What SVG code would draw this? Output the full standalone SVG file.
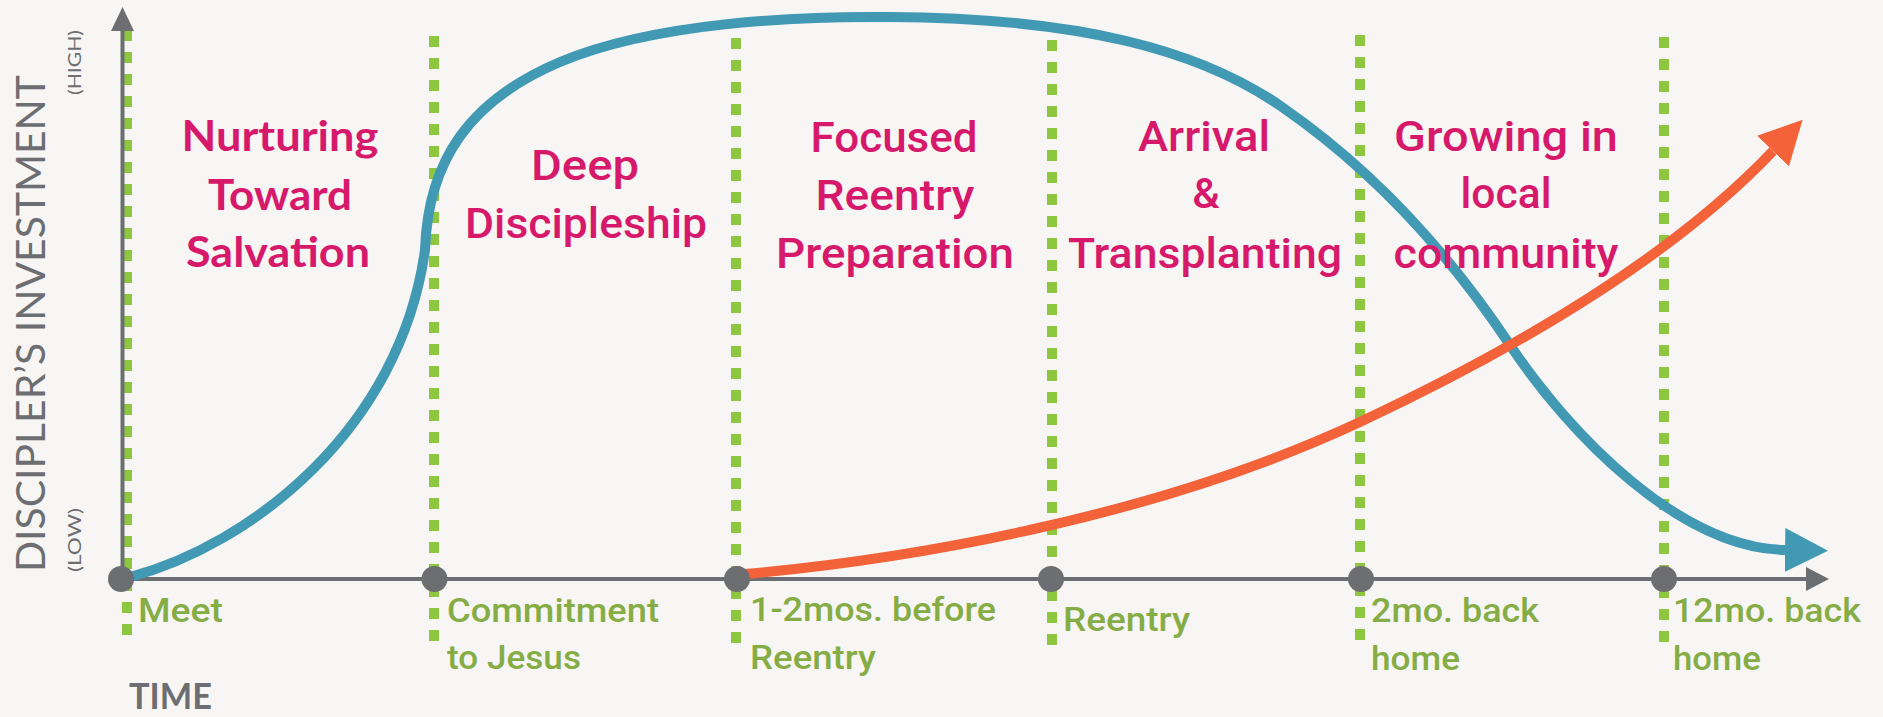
<svg xmlns="http://www.w3.org/2000/svg" width="1883" height="717" viewBox="0 0 1883 717">
<defs>
<style>
.bg{fill:#f7f6f4}
.vline{stroke:#8dc63f;stroke-width:10;stroke-dasharray:11 11;fill:none}
.axis{stroke:#6d6e71;stroke-width:4;fill:none}
.dot{fill:#6d6e71}
.phase{font-family:Roboto,"Liberation Sans",sans-serif;font-weight:500;font-size:43px;fill:#d7196b;text-anchor:middle}
.phase1{font-family:Lato,"Liberation Sans",sans-serif;font-weight:700;font-size:42px;fill:#d7196b;text-anchor:middle}
.ms{font-family:Roboto,"Liberation Sans",sans-serif;font-weight:500;font-size:33px;fill:#86ad45}
.ax{font-family:Lato,"Liberation Sans",sans-serif;fill:#6d6e71}
.blue{stroke:#4299b4;stroke-width:10;fill:none}
.orange{stroke:#f4623a;stroke-width:10;fill:none}
</style>
<marker id="ab" markerUnits="userSpaceOnUse" markerWidth="50" markerHeight="50" refX="0" refY="22" orient="auto" viewBox="0 0 50 44"><polygon points="0,0 43,22 0,44" fill="#4299b4"/></marker>
<marker id="ao" markerUnits="userSpaceOnUse" markerWidth="50" markerHeight="50" refX="0" refY="22" orient="auto" viewBox="0 0 50 44"><polygon points="0,0 43,22 0,44" fill="#f4623a"/></marker>
</defs>
<rect class="bg" x="0" y="0" width="1883" height="717"/>

<g id="gridlines">
<line class="vline" x1="127" y1="30" x2="127" y2="637"/>
<line class="vline" x1="434" y1="36" x2="434" y2="642"/>
<line class="vline" x1="736" y1="38" x2="736" y2="643"/>
<line class="vline" x1="1052" y1="40" x2="1052" y2="645"/>
<line class="vline" x1="1360" y1="35" x2="1360" y2="641"/>
<line class="vline" x1="1664" y1="37" x2="1664" y2="642"/>
</g>

<g id="axes">
<line class="axis" x1="122.5" y1="579" x2="122.5" y2="28"/>
<polygon points="122.5,7 134,31 111,31" fill="#6d6e71"/>
<line class="axis" x1="122" y1="579" x2="1808" y2="579"/>
<polygon points="1829,579 1806,567 1806,591" fill="#6d6e71"/>
<text class="ax" font-size="41" font-weight="400" transform="translate(45,572) rotate(-90)" textLength="497" lengthAdjust="spacingAndGlyphs">DISCIPLER’S INVESTMENT</text>
<text class="ax" font-size="17" transform="translate(81,95) rotate(-90)" textLength="65" lengthAdjust="spacingAndGlyphs">(HIGH)</text>
<text class="ax" font-size="17" transform="translate(81,572) rotate(-90)" textLength="64" lengthAdjust="spacingAndGlyphs">(LOW)</text>
<text class="ax" x="129" y="709" font-size="36" font-weight="700" textLength="83" lengthAdjust="spacingAndGlyphs">TIME</text>
</g>

<g id="connectors">
<path class="blue" d="M130,577 C250,545 400,430 425,250 C428,160 470,100 560,62 C655,22 800,16 890,17 C1080,18 1200,50 1282,107 C1360,161 1440,240 1510,345 C1570,435 1680,548 1785,550" marker-end="url(#ab)"/>
<path class="orange" d="M745,574 C900,560 1150,520 1360,422 C1490,361 1660,270 1773,151" marker-end="url(#ao)"/>
</g>

<g id="milestones">
<g id="m-meet"><circle class="dot" cx="121" cy="579" r="13"/><text class="ms" x="138" y="622" textLength="85" lengthAdjust="spacingAndGlyphs">Meet</text></g>
<g id="m-commit"><circle class="dot" cx="434.5" cy="579" r="13"/><text class="ms" x="447" y="622" textLength="212" lengthAdjust="spacingAndGlyphs">Commitment</text><text class="ms" x="447" y="669" textLength="134" lengthAdjust="spacingAndGlyphs">to Jesus</text></g>
<g id="m-before"><circle class="dot" cx="737" cy="579" r="13"/><text class="ms" x="750" y="621" textLength="246" lengthAdjust="spacingAndGlyphs">1-2mos. before</text><text class="ms" x="750" y="669" textLength="126" lengthAdjust="spacingAndGlyphs">Reentry</text></g>
<g id="m-reentry"><circle class="dot" cx="1051" cy="579" r="13"/><text class="ms" x="1063" y="631" textLength="127" lengthAdjust="spacingAndGlyphs">Reentry</text></g>
<g id="m-2mo"><circle class="dot" cx="1361" cy="579" r="13"/><text class="ms" x="1371" y="622" textLength="168" lengthAdjust="spacingAndGlyphs">2mo. back</text><text class="ms" x="1371" y="670" textLength="89" lengthAdjust="spacingAndGlyphs">home</text></g>
<g id="m-12mo"><circle class="dot" cx="1664" cy="579" r="13"/><text class="ms" x="1673" y="622" textLength="188" lengthAdjust="spacingAndGlyphs">12mo. back</text><text class="ms" x="1673" y="670" textLength="88" lengthAdjust="spacingAndGlyphs">home</text></g>
</g>

<g id="phase-nurturing">
<text class="phase1" x="280" y="151" textLength="197" lengthAdjust="spacingAndGlyphs">Nurturing</text>
<text class="phase1" x="280" y="210" textLength="144" lengthAdjust="spacingAndGlyphs">Toward</text>
<text class="phase1" x="278" y="267" textLength="184" lengthAdjust="spacingAndGlyphs">Salvation</text>
</g>
<g id="phase-deep">
<text class="phase" x="585" y="180" textLength="108" lengthAdjust="spacingAndGlyphs">Deep</text>
<text class="phase" x="586" y="238" textLength="242" lengthAdjust="spacingAndGlyphs">Discipleship</text>
</g>
<g id="phase-focused">
<text class="phase" x="894" y="152" textLength="167" lengthAdjust="spacingAndGlyphs">Focused</text>
<text class="phase" x="895" y="210" textLength="159" lengthAdjust="spacingAndGlyphs">Reentry</text>
<text class="phase" x="895" y="268" textLength="238" lengthAdjust="spacingAndGlyphs">Preparation</text>
</g>
<g id="phase-arrival">
<text class="phase" x="1204" y="151" textLength="132" lengthAdjust="spacingAndGlyphs">Arrival</text>
<text class="phase" x="1206" y="208">&amp;</text>
<text class="phase" x="1205" y="268" textLength="274" lengthAdjust="spacingAndGlyphs">Transplanting</text>
</g>
<g id="phase-growing">
<text class="phase" x="1506" y="151" textLength="224" lengthAdjust="spacingAndGlyphs">Growing in</text>
<text class="phase" x="1506" y="208" textLength="91" lengthAdjust="spacingAndGlyphs">local</text>
<text class="phase" x="1506" y="268" textLength="225" lengthAdjust="spacingAndGlyphs">community</text>
</g>
</svg>
